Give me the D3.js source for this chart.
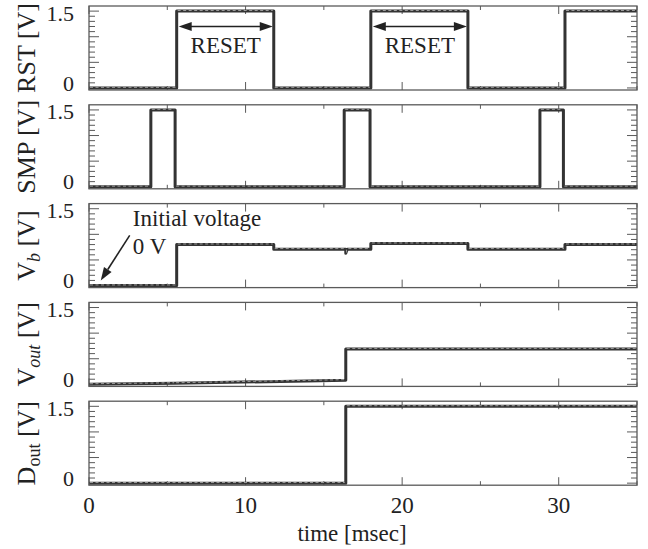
<!DOCTYPE html>
<html>
<head>
<meta charset="utf-8">
<script src="https://cdn.jsdelivr.net/npm/d3@7"></script>
<style>
  body { margin: 0; background: #fff; }
  text { font-family: "Liberation Serif", "Times New Roman", serif; fill: #222; }
</style>
</head>
<body>
<svg id="chart" width="648" height="549"></svg>
<script>
// ticks
const xMajorTicks = [0, 10, 20, 30];
const xMinorTicks = [5, 15, 25, 35];
const yLabelTicks = [0, 1.5];
const yMajorTicks = [0, 0.5, 1.0, 1.5];
const yMinorTicks = d3.range(0, 16).map(i => i / 10);

// waveforms, [time msec, volts]
const rstPoints = [[0, 0], [5.6, 0], [5.6, 1.5], [11.8, 1.5], [11.8, 0], [18.0, 0], [18.0, 1.5],
  [24.2, 1.5], [24.2, 0], [30.4, 0], [30.4, 1.5], [35, 1.5]];
const smpPoints = [[0, 0], [3.95, 0], [3.95, 1.5], [5.5, 1.5], [5.5, 0], [16.3, 0], [16.3, 1.5],
  [17.95, 1.5], [17.95, 0], [28.8, 0], [28.8, 1.5], [30.3, 1.5], [30.3, 0], [35, 0]];
const vbPoints = [[0, 0], [5.6, 0], [5.6, 0.8], [11.8, 0.8], [11.8, 0.71], [16.4, 0.71], [16.4, 0.63],
  [16.5, 0.71], [18.0, 0.71], [18.0, 0.82], [24.2, 0.82], [24.2, 0.71], [30.4, 0.71], [30.4, 0.8], [35, 0.8]];
const voutPoints = [[0, 0], [5.5, 0.02], [16.4, 0.08], [16.4, 0.69], [35, 0.69]];
const doutPoints = [[0, 0], [16.4, 0], [16.4, 1.5], [35, 1.5]];

// reset windows (rst high periods carrying an arrow)
const resetSpans = [[5.6, 11.8], [18.0, 24.2]];

const panels = [
  { label: [{ t: 'RST [V]' }], points: rstPoints },
  { label: [{ t: 'SMP [V]' }], points: smpPoints },
  { label: [{ t: 'V' }, { t: 'b', sub: true, italic: true }, { t: ' [V]' }], points: vbPoints },
  { label: [{ t: 'V' }, { t: 'out', sub: true, italic: true }, { t: ' [V]' }], points: voutPoints },
  { label: [{ t: 'D' }, { t: 'out', sub: true }, { t: ' [V]' }], points: doutPoints },
];

const left = 89, right = 637;
const panelTop0 = 6, panelStep = 98.8, panelH = 84;
const lineDark = '#333', frameColor = '#5a5a5a';

const svg = d3.select('#chart');
const x = d3.scaleLinear().domain([0, 35]).range([left, right]);

panels.forEach((p, i) => {
  const top = panelTop0 + i * panelStep;
  const bottom = top + panelH;
  const y = d3.scaleLinear().domain([-0.04, 1.6]).range([bottom, top]);
  const g = svg.append('g');

  // ticks, all four sides, pointing inward
  const tk = g.append('g').attr('stroke', frameColor).attr('stroke-width', 1);
  yMinorTicks.forEach(v => {
    const len = yMajorTicks.some(m => Math.abs(m - v) < 1e-6) ? 10 : 6;
    tk.append('line').attr('x1', left).attr('x2', left + len).attr('y1', y(v)).attr('y2', y(v));
    tk.append('line').attr('x1', right).attr('x2', right - len).attr('y1', y(v)).attr('y2', y(v));
  });
  xMajorTicks.concat(xMinorTicks).forEach(t => {
    const len = xMajorTicks.includes(t) ? 8 : 4;
    tk.append('line').attr('x1', x(t)).attr('x2', x(t)).attr('y1', top).attr('y2', top + len);
    tk.append('line').attr('x1', x(t)).attr('x2', x(t)).attr('y1', bottom).attr('y2', bottom - len);
  });

  // waveform
  const line = d3.line().x(d => x(d[0])).y(d => y(d[1]));
  g.append('path')
    .datum(p.points)
    .attr('d', line)
    .attr('fill', 'none')
    .attr('stroke', lineDark)
    .attr('stroke-width', 3)
    .attr('stroke-linejoin', 'round');
  // lighter dashed trace on flat parts
  const flats = d3.pairs(p.points).filter(([a, b]) => b[0] - a[0] > 0.05);
  g.append('g').selectAll('line')
    .data(flats)
    .join('line')
    .attr('x1', d => x(d[0][0]) + 1)
    .attr('x2', d => x(d[1][0]) - 1)
    .attr('y1', d => y(d[0][1]) - 0.6)
    .attr('y2', d => y(d[1][1]) - 0.6)
    .attr('stroke', '#a8a8a8')
    .attr('stroke-width', 0.9)
    .attr('stroke-dasharray', '3 2.5');

  // frame
  g.append('rect')
    .attr('x', left).attr('y', top)
    .attr('width', right - left).attr('height', panelH)
    .attr('fill', 'none')
    .attr('stroke', frameColor)
    .attr('stroke-width', 1.3);

  // y tick labels
  yLabelTicks.forEach(v => {
    g.append('text')
      .attr('x', 74)
      .attr('y', Math.min(y(v) + 9.5, bottom + 0.5))
      .attr('text-anchor', 'end')
      .attr('font-size', 22)
      .text(v === 0 ? '0' : d3.format('.1f')(v));
  });

  // y label
  const lab = g.append('text')
    .attr('transform', `translate(35,${(top + bottom) / 2}) rotate(-90)`)
    .attr('text-anchor', 'middle')
    .attr('font-size', 26);
  let shifted = false;
  p.label.forEach(part => {
    const ts = lab.append('tspan').text(part.t);
    if (part.sub) {
      ts.attr('font-size', 18).attr('dy', '0.28em');
      if (part.italic) ts.attr('font-style', 'italic');
      shifted = true;
    } else if (shifted) {
      ts.attr('dy', '-0.2em');
      shifted = false;
    }
  });

  p.y = y;
  p.top = top;
  p.bottom = bottom;
});

// RESET arrows on the RST panel
const rstY = panels[0].y;
const arrowHead = (x0, y0, dir) =>
  `M${x0},${y0} L${x0 - dir * 13},${y0 - 4.5} L${x0 - dir * 13},${y0 + 4.5} Z`;
resetSpans.forEach(([a, b]) => {
  const xa = x(a) + 2, xb = x(b) - 1, ya = rstY(1.2);
  svg.append('line').attr('x1', xa + 8).attr('x2', xb - 8).attr('y1', ya).attr('y2', ya)
    .attr('stroke', '#222').attr('stroke-width', 1.6);
  svg.append('path').attr('d', arrowHead(xa, ya, -1)).attr('fill', '#222');
  svg.append('path').attr('d', arrowHead(xb, ya, 1)).attr('fill', '#222');
  svg.append('text')
    .attr('x', (xa + xb) / 2)
    .attr('y', rstY(0.68))
    .attr('text-anchor', 'middle')
    .attr('font-size', 23)
    .text('RESET');
});

// initial voltage annotation on Vb panel
const vbY = panels[2].y;
svg.append('text').attr('x', x(2.8)).attr('y', vbY(1.16)).attr('font-size', 23).text('Initial voltage');
svg.append('text').attr('x', x(2.8)).attr('y', vbY(0.62)).attr('font-size', 23).text('0 V');
{
  const x0 = x(2.6), y0 = vbY(0.98), x1 = x(0.75), y1 = vbY(0.1);
  const ang = Math.atan2(y1 - y0, x1 - x0);
  const L = 13, W = 4.5;
  const bx = x1 - L * Math.cos(ang), by = y1 - L * Math.sin(ang);
  svg.append('line').attr('x1', x0).attr('y1', y0).attr('x2', bx).attr('y2', by)
    .attr('stroke', '#222').attr('stroke-width', 1.6);
  svg.append('path')
    .attr('d', `M${x1},${y1} L${bx + W * Math.sin(ang)},${by - W * Math.cos(ang)} L${bx - W * Math.sin(ang)},${by + W * Math.cos(ang)} Z`)
    .attr('fill', '#222');
}

// x tick labels and title
const lastBottom = panels[panels.length - 1].bottom;
xMajorTicks.forEach(t => {
  svg.append('text')
    .attr('x', x(t))
    .attr('y', lastBottom + 28)
    .attr('text-anchor', 'middle')
    .attr('font-size', 23)
    .text(t);
});
svg.append('text')
  .attr('x', 352)
  .attr('y', lastBottom + 56)
  .attr('text-anchor', 'middle')
  .attr('font-size', 23)
  .text('time [msec]');
</script>
</body>
</html>
